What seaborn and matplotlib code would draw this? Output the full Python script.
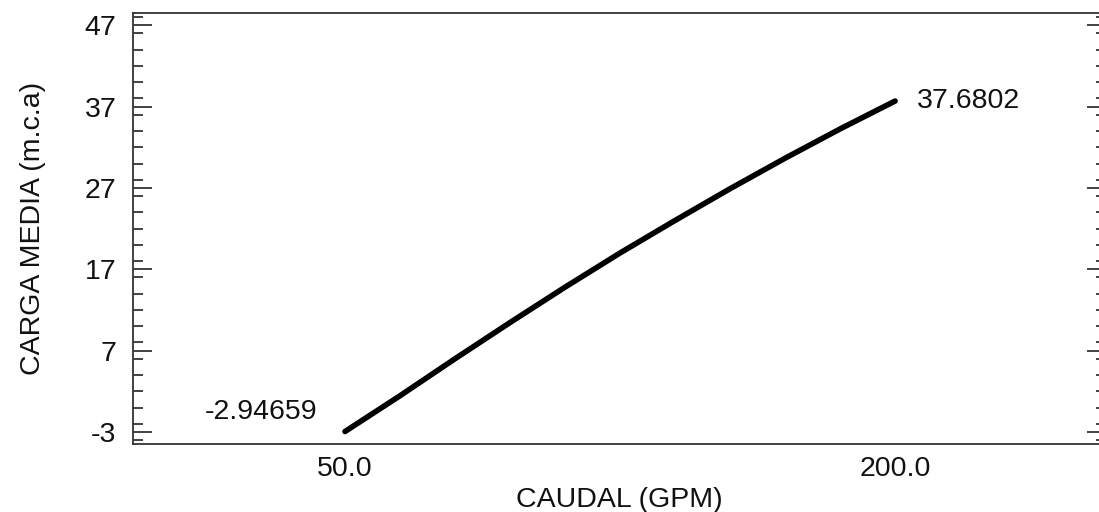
import matplotlib
matplotlib.use("Agg")
import matplotlib.pyplot as plt
import pandas as pd
import seaborn as sns
from matplotlib.ticker import FixedLocator, MultipleLocator

# Flow rate (GPM) versus mean head (m.c.a)
caudal_gpm = [50, 65, 80, 95, 110, 125, 140, 155, 170, 185, 200]
carga_media = [-2.94659, 1.45, 6.0, 10.45, 14.8, 19.0, 23.0, 26.9, 30.65, 34.25, 37.6802]
x_ticks = [50.0, 200.0]
y_ticks = [-3, 7, 17, 27, 37, 47]

sns.set_theme(style="white")
plt.rcParams['font.family'] = ['Liberation Sans', 'DejaVu Sans']

W, H = 1099, 512
fig = plt.figure(figsize=(W / 100, H / 100), dpi=100)
left, right, top, bottom = 133, 1106, 13, 444
ax = fig.add_axes([left / W, (H - bottom) / H, (right - left) / W, (bottom - top) / H])

df = pd.DataFrame({"caudal": caudal_gpm, "carga": carga_media})
sns.lineplot(data=df, x="caudal", y="carga", color="black", linewidth=4.0,
             ax=ax, solid_capstyle="round", solid_joinstyle="round")

ax.set_xlim(-7.8, 257.5)
ax.set_ylim(-4.48, 48.5)

fs = 20.5
ax.xaxis.set_major_locator(FixedLocator(x_ticks))
ax.set_xticklabels([f"{v:.1f}" for v in x_ticks], fontsize=fs, color="#111111")
ax.yaxis.set_major_locator(FixedLocator(y_ticks))
ax.yaxis.set_minor_locator(MultipleLocator(2))
ax.set_yticklabels([str(v) for v in y_ticks], fontsize=fs, color="#111111")

ax.tick_params(axis="x", which="both", length=0, pad=9)
ax.tick_params(axis="y", which="major", direction="in", length=14, width=1.2,
               color="#222222", left=True, right=True, pad=12)
ax.tick_params(axis="y", which="minor", direction="in", length=7, width=1.2,
               color="#222222", left=True, right=True)

for side in ["left", "top", "bottom", "right"]:
    ax.spines[side].set_visible(True)
    ax.spines[side].set_color("#333333")
    ax.spines[side].set_linewidth(1.3)

ax.set_xlabel("CAUDAL (GPM)", fontsize=fs, color="#111111", labelpad=3)
ax.set_ylabel("CARGA MEDIA (m.c.a)", fontsize=fs, color="#111111", labelpad=28)

# Value labels at both ends of the curve
ax.annotate(str(carga_media[0]), xy=(caudal_gpm[0], carga_media[0]),
            xytext=(-20, 14), textcoords="offset points",
            ha="right", va="center", fontsize=fs, color="#111111")
ax.annotate(str(carga_media[-1]), xy=(caudal_gpm[-1], carga_media[-1]),
            xytext=(16, 0), textcoords="offset points",
            ha="left", va="center", fontsize=fs, color="#111111")

fig.savefig("out.png", dpi=100)
